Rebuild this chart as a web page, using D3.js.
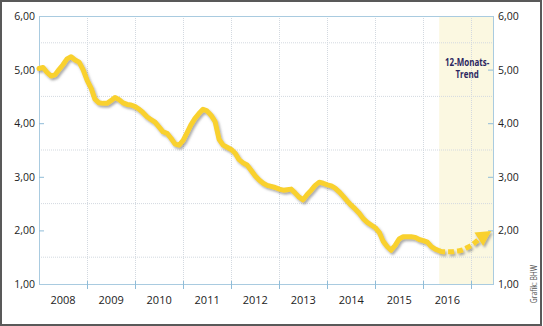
<!DOCTYPE html>
<html>
<head>
<meta charset="utf-8">
<script src="https://cdn.jsdelivr.net/npm/d3@7"></script>
<style>
  body { margin: 0; background: #fff; }
  svg { display: block; font-family: "Open Sans", sans-serif; }
</style>
</head>
<body>
<div id="chart"></div>
<script>
// monthly values, starting January 2008
const startMonth = new Date(2008, 0, 1);
const rates = [
  5.02, 5.04, 4.95, 4.88, 4.90, 5.00, 5.09, 5.20, 5.24, 5.18, 5.14, 5.00,
  4.80, 4.65, 4.45, 4.38, 4.37, 4.37, 4.42, 4.48, 4.44, 4.38, 4.35, 4.34,
  4.31, 4.26, 4.20, 4.12, 4.07, 4.02, 3.93, 3.84, 3.81, 3.72, 3.61, 3.59,
  3.68, 3.83, 3.97, 4.09, 4.18, 4.26, 4.23, 4.15, 4.03, 3.70, 3.59, 3.55,
  3.51, 3.44, 3.32, 3.26, 3.22, 3.12, 3.02, 2.94, 2.88, 2.84, 2.82, 2.80,
  2.77, 2.75, 2.76, 2.77, 2.70, 2.62, 2.57, 2.67, 2.75, 2.84, 2.90, 2.88,
  2.85, 2.83, 2.79, 2.72, 2.64, 2.55, 2.47, 2.40, 2.32, 2.22, 2.15, 2.10,
  2.05, 1.96, 1.80, 1.70, 1.63, 1.72, 1.84, 1.88, 1.88, 1.88, 1.87, 1.83,
  1.81, 1.78, 1.70, 1.65, 1.62
];
// 12-month trend, continues from the last observed month
const trendStart = 100;
const trend = [1.62, 1.60, 1.60, 1.60, 1.61, 1.62, 1.64, 1.68, 1.72, 1.78, 1.84, 1.90, 1.95, 1.99];

const years = [2008, 2009, 2010, 2011, 2012, 2013, 2014, 2015, 2016];
const yTicks = [1, 2, 3, 4, 5, 6];
const gridValues = [1.5, 2.5, 3.5, 4.5, 5.5];
const trendLabel = ["12-Monats-", "Trend"];
const credit = "Grafik: BHW";

const W = 543, H = 326;
const plotLeft = 39, plotRight = 493, plotTop = 16, plotBottom = 284;

const monthDate = m => d3.timeMonth.offset(startMonth, m);

const x = d3.scaleTime()
    .domain([startMonth, new Date(2017, 5, 14)])
    .range([plotLeft, plotRight]);

const y = d3.scaleLinear()
    .domain([1, 6])
    .range([plotBottom, plotTop]);

const fmt = v => d3.format(".2f")(v).replace(".", ",");

const svg = d3.select("#chart")
    .append("svg")
    .attr("width", W)
    .attr("height", H);

const defs = svg.append("defs");
const shadow = defs.append("filter")
    .attr("id", "shadow")
    .attr("x", "-10%").attr("y", "-10%")
    .attr("width", "130%").attr("height", "130%");
shadow.append("feDropShadow")
    .attr("dx", 1.5).attr("dy", 2)
    .attr("stdDeviation", 1.2)
    .attr("flood-color", "#6a6a6a")
    .attr("flood-opacity", 0.55);

// outer frame
svg.append("rect")
    .attr("x", 1).attr("y", 1)
    .attr("width", W - 3).attr("height", H - 2)
    .attr("fill", "#fff")
    .attr("stroke", "#595959")
    .attr("stroke-width", 2);

// trend area shading
svg.append("rect")
    .attr("x", x(monthDate(trendStart)))
    .attr("y", plotTop)
    .attr("width", plotRight - x(monthDate(trendStart)))
    .attr("height", plotBottom - plotTop)
    .attr("fill", "#fbf8e1");

// dotted grid
const yearBounds = years.slice(1).concat([2017]).map(yr => new Date(yr, 0, 1));

svg.append("g")
    .selectAll("line")
    .data(gridValues)
    .enter()
    .append("line")
    .attr("x1", plotLeft).attr("x2", plotRight)
    .attr("y1", d => y(d)).attr("y2", d => y(d))
    .attr("stroke", "#d3d9e0")
    .attr("stroke-width", 1)
    .attr("stroke-dasharray", "1,1");

svg.append("g")
    .selectAll("line")
    .data(yearBounds)
    .enter()
    .append("line")
    .attr("x1", d => Math.round(x(d)) + 0.5).attr("x2", d => Math.round(x(d)) + 0.5)
    .attr("y1", plotTop).attr("y2", plotBottom)
    .attr("stroke", "#d3d9e0")
    .attr("stroke-width", 1)
    .attr("stroke-dasharray", "1,1");

// plot frame
svg.append("rect")
    .attr("x", plotLeft + 0.5).attr("y", plotTop + 0.5)
    .attr("width", plotRight - plotLeft).attr("height", plotBottom - plotTop)
    .attr("fill", "none")
    .attr("stroke", "#a9cbe0")
    .attr("stroke-width", 1);

// axis ticks (inside)
const tickColor = "#8fbcd8";
svg.append("g")
    .selectAll("line")
    .data(yTicks.filter(d => d > 1 && d < 6))
    .enter()
    .append("line")
    .attr("x1", plotLeft).attr("x2", plotLeft + 5)
    .attr("y1", d => y(d) + 0.5).attr("y2", d => y(d) + 0.5)
    .attr("stroke", tickColor);

svg.append("g")
    .selectAll("line")
    .data(yTicks.filter(d => d > 1 && d < 6))
    .enter()
    .append("line")
    .attr("x1", plotRight - 5).attr("x2", plotRight)
    .attr("y1", d => y(d) + 0.5).attr("y2", d => y(d) + 0.5)
    .attr("stroke", tickColor);

svg.append("g")
    .selectAll("line")
    .data(yearBounds)
    .enter()
    .append("line")
    .attr("x1", d => Math.round(x(d)) + 0.5).attr("x2", d => Math.round(x(d)) + 0.5)
    .attr("y1", plotBottom - 3).attr("y2", plotBottom + 5)
    .attr("stroke", tickColor);

// y labels left and right
svg.append("g")
    .selectAll("text")
    .data(yTicks)
    .enter()
    .append("text")
    .attr("x", plotLeft - 4)
    .attr("y", d => y(d) + 4)
    .attr("text-anchor", "end")
    .style("font-size", "10.5px")
    .style("fill", "#222")
    .text(fmt);

svg.append("g")
    .selectAll("text")
    .data(yTicks)
    .enter()
    .append("text")
    .attr("x", plotRight + 5)
    .attr("y", d => y(d) + 4)
    .attr("text-anchor", "start")
    .style("font-size", "10.5px")
    .style("fill", "#222")
    .text(fmt);

// year labels
svg.append("g")
    .selectAll("text")
    .data(years)
    .enter()
    .append("text")
    .attr("x", d => (x(new Date(d, 0, 1)) + x(new Date(d + 1, 0, 1))) / 2)
    .attr("y", 304)
    .attr("text-anchor", "middle")
    .style("font-size", "11px")
    .style("fill", "#222")
    .text(d => d);

// trend label: two lines, squeezed to fit the shaded band
const labelX = (x(monthDate(trendStart)) + plotRight) / 2 + 1;
svg.append("g")
    .selectAll("text")
    .data(trendLabel)
    .enter()
    .append("text")
    .attr("transform", (d, i) => `translate(${labelX}, ${66 + i * 12}) scale(0.76, 1)`)
    .attr("text-anchor", "middle")
    .style("font-weight", "bold")
    .style("font-size", "10.5px")
    .style("fill", "#2b2660")
    .text(d => d);

// credit
svg.append("text")
    .attr("transform", "translate(537, 284) rotate(-90) scale(0.8, 1)")
    .attr("text-anchor", "middle")
    .style("font-size", "8.5px")
    .style("fill", "#555")
    .text(credit);

// lines
const line = d3.line()
    .x(d => x(d.date))
    .y(d => y(d.value));

const rateData = rates.map((v, i) => ({ date: monthDate(i), value: v }));
const trendData = trend.map((v, i) => ({ date: monthDate(trendStart + i), value: v }));

const lineColor = "#f9d12f";
const lines = svg.append("g").attr("filter", "url(#shadow)");

lines.append("path")
    .datum(rateData)
    .attr("d", line)
    .attr("fill", "none")
    .attr("stroke", lineColor)
    .attr("stroke-width", 5)
    .attr("stroke-linejoin", "round")
    .attr("stroke-linecap", "round");

// dashed trend without the last part (covered by the arrow head)
lines.append("path")
    .datum(trendData.slice(0, trendData.length - 3))
    .attr("d", line.curve(d3.curveMonotoneX))
    .attr("fill", "none")
    .attr("stroke", lineColor)
    .attr("stroke-width", 5)
    .attr("stroke-dasharray", "6,3");

// arrow head, direction from the trend's last points
const tip = trendData[trendData.length - 1];
const base = trendData[trendData.length - 4];
const tx = x(tip.date), ty = y(tip.value);
const bx = x(base.date), by = y(base.value);
const ang = Math.atan2(ty - by, tx - bx);
const len = 15, half = 8;
const ax = tx - len * Math.cos(ang), ay = ty - len * Math.sin(ang);
lines.append("path")
    .attr("d", `M${tx},${ty}L${ax + half * Math.sin(ang)},${ay - half * Math.cos(ang)}L${ax - half * Math.sin(ang)},${ay + half * Math.cos(ang)}Z`)
    .attr("fill", lineColor);
</script>
</body>
</html>
